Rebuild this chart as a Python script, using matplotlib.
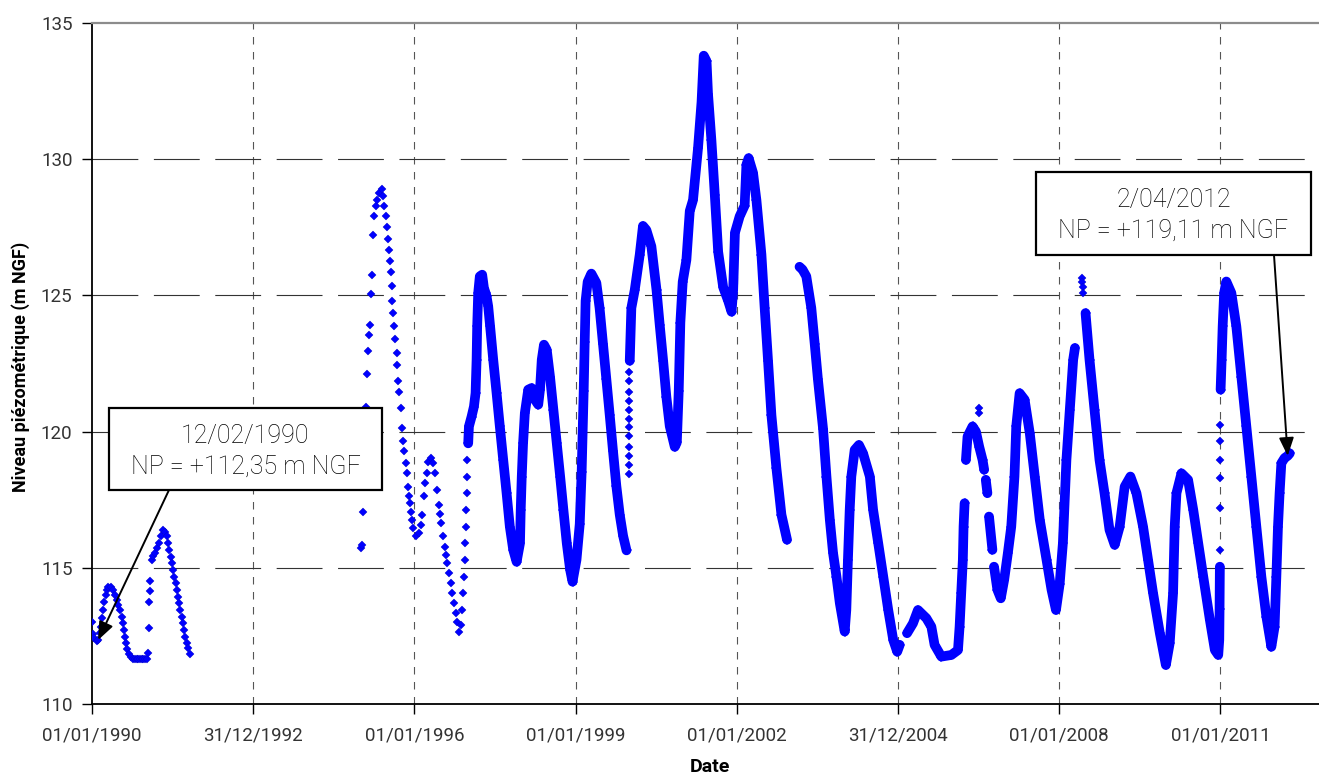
import pandas as pd
import numpy as np
import matplotlib
matplotlib.use('Agg')
import matplotlib.pyplot as plt
from matplotlib.patches import Rectangle

plt.rcParams['font.family'] = ['Roboto', 'DejaVu Sans']
plt.rcParams['lines.scale_dashes'] = False

# --- Piezometric level (m NGF) -------------------------------------------
# Individual readings (drawn as separate diamonds)
spots_1990_1991 = [
    ("1990-01-01", 113.00), ("1990-01-06", 112.57), ("1990-01-17", 112.41),
    ("1990-02-02", 112.33), ("1990-02-12", 112.35), ("1990-02-24", 112.60),
    ("1990-03-03", 112.84), ("1990-03-12", 113.15), ("1990-03-19", 113.45),
    ("1990-03-26", 113.76), ("1990-04-04", 114.00), ("1990-04-11", 114.19),
    ("1990-04-22", 114.29), ("1990-05-08", 114.29), ("1990-05-26", 114.19),
    ("1990-06-06", 114.00), ("1990-06-18", 113.82), ("1990-06-29", 113.64),
    ("1990-07-10", 113.45), ("1990-07-22", 113.21), ("1990-07-29", 112.96),
    ("1990-08-06", 112.72), ("1990-08-13", 112.47), ("1990-08-20", 112.23),
    ("1990-08-29", 112.01), ("1990-09-09", 111.84), ("1990-09-23", 111.72),
    ("1990-10-09", 111.64), ("1990-10-20", 111.64), ("1990-11-01", 111.64),
    ("1990-11-12", 111.64), ("1990-11-23", 111.64), ("1990-12-05", 111.64),
    ("1990-12-16", 111.64), ("1990-12-27", 111.64), ("1991-01-08", 111.64),
    ("1991-01-19", 111.86), ("1991-01-22", 112.80), ("1991-01-26", 113.75),
    ("1991-01-29", 114.15), ("1991-02-02", 114.50), ("1991-02-11", 115.30),
    ("1991-02-22", 115.42), ("1991-03-05", 115.54), ("1991-03-21", 115.72),
    ("1991-04-03", 115.90), ("1991-04-15", 116.15), ("1991-04-30", 116.37),
    ("1991-05-12", 116.33), ("1991-05-24", 116.15), ("1991-06-03", 115.90),
    ("1991-06-10", 115.66), ("1991-06-20", 115.41), ("1991-07-01", 115.17),
    ("1991-07-07", 114.92), ("1991-07-14", 114.68), ("1991-07-24", 114.43),
    ("1991-07-31", 114.19), ("1991-08-10", 113.94), ("1991-08-17", 113.70),
    ("1991-08-24", 113.45), ("1991-09-03", 113.21), ("1991-09-09", 112.96),
    ("1991-09-18", 112.72), ("1991-09-25", 112.47), ("1991-10-07", 112.23),
    ("1991-10-17", 112.05), ("1991-10-29", 111.84),
]

spots_1995_1996 = [
    ("1995-01-01", 115.72), ("1995-01-07", 115.84), ("1995-01-14", 117.06),
    ("1995-02-05", 120.92), ("1995-02-10", 122.11), ("1995-02-21", 122.97),
    ("1995-02-28", 123.56), ("1995-03-05", 123.92), ("1995-03-11", 125.05),
    ("1995-03-20", 125.76), ("1995-03-27", 127.20), ("1995-04-03", 127.90),
    ("1995-04-14", 128.27), ("1995-04-23", 128.52), ("1995-05-07", 128.76),
    ("1995-05-23", 128.92), ("1995-05-30", 128.64), ("1995-06-10", 128.27),
    ("1995-06-19", 127.90), ("1995-06-30", 127.50), ("1995-07-07", 127.07),
    ("1995-07-12", 126.68), ("1995-07-18", 126.27), ("1995-07-23", 125.86),
    ("1995-07-30", 125.36), ("1995-08-03", 124.80), ("1995-08-10", 124.35),
    ("1995-08-15", 123.86), ("1995-08-22", 123.41), ("1995-09-02", 122.88),
    ("1995-09-06", 122.45), ("1995-09-13", 121.87), ("1995-09-20", 121.45),
    ("1995-09-30", 120.86), ("1995-10-06", 120.13), ("1995-10-17", 119.66),
    ("1995-10-24", 119.27), ("1995-11-03", 118.86), ("1995-11-09", 118.47),
    ("1995-11-20", 117.98), ("1995-11-25", 117.62), ("1995-12-02", 117.37),
    ("1995-12-09", 117.06), ("1995-12-18", 116.76), ("1995-12-25", 116.45),
    ("1996-01-11", 116.15), ("1996-02-01", 116.27), ("1996-02-14", 116.58),
    ("1996-02-23", 116.94), ("1996-03-06", 117.64), ("1996-03-12", 118.11),
    ("1996-03-24", 118.47), ("1996-04-04", 118.90), ("1996-04-20", 119.03),
    ("1996-05-08", 118.84), ("1996-05-19", 118.47), ("1996-05-31", 117.86),
    ("1996-06-15", 117.31), ("1996-06-22", 116.98), ("1996-06-29", 116.64),
    ("1996-07-15", 116.15), ("1996-07-26", 115.78), ("1996-08-02", 115.47),
    ("1996-08-11", 115.17), ("1996-08-22", 114.80), ("1996-09-03", 114.43),
    ("1996-09-14", 114.07), ("1996-09-25", 113.70), ("1996-10-07", 113.33),
    ("1996-10-18", 113.02), ("1996-10-29", 112.66), ("1996-11-10", 112.90),
    ("1996-11-21", 113.45), ("1996-11-28", 114.07), ("1996-12-02", 114.68),
    ("1996-12-09", 115.29), ("1996-12-11", 115.90), ("1996-12-14", 116.51),
    ("1996-12-16", 117.13), ("1996-12-21", 117.74), ("1996-12-23", 118.35),
    ("1996-12-25", 118.96),
]

spots_2000 = [
    ("2000-01-01", 118.46), ("2000-01-01", 118.78), ("2000-01-01", 119.11),
    ("2000-01-01", 119.44), ("2000-01-01", 119.83), ("2000-01-01", 120.16),
    ("2000-01-01", 120.48), ("2000-01-01", 120.81), ("2000-01-01", 121.14),
    ("2000-01-01", 121.47), ("2000-01-01", 121.86), ("2000-01-01", 122.19),
]

spots_2006 = [("2006-07-06", 120.87), ("2006-07-08", 120.68)]

spots_2008 = [("2008-06-04", 125.65), ("2008-06-06", 125.50),
              ("2008-06-08", 125.30), ("2008-06-10", 125.10)]

spots_2011 = [("2010-12-29", 115.66), ("2010-12-29", 117.19),
              ("2010-12-30", 118.29), ("2010-12-30", 118.96),
              ("2010-12-31", 119.64), ("2010-12-31", 120.23)]

# Continuous logger stretches (dense daily series)
logger_1997_1999 = [
    ("1997-01-01", 119.57), ("1997-01-06", 120.19), ("1997-01-24", 120.55),
    ("1997-02-09", 120.92), ("1997-02-20", 121.41), ("1997-02-27", 122.64),
    ("1997-03-03", 123.86), ("1997-03-10", 125.09), ("1997-03-21", 125.70),
    ("1997-04-06", 125.76), ("1997-04-18", 125.27), ("1997-04-29", 125.09),
    ("1997-05-06", 124.96), ("1997-05-17", 124.60), ("1997-05-30", 123.86),
    ("1997-06-20", 122.64), ("1997-07-13", 121.41), ("1997-08-04", 120.19),
    ("1997-08-27", 118.96), ("1997-09-19", 117.74), ("1997-10-11", 116.51),
    ("1997-11-03", 115.66), ("1997-11-26", 115.22), ("1997-12-19", 115.90),
    ("1997-12-24", 117.13), ("1997-12-31", 118.35), ("1998-01-09", 119.57),
    ("1998-01-21", 120.68), ("1998-02-13", 121.54), ("1998-03-08", 121.60),
    ("1998-03-31", 121.17), ("1998-04-22", 120.99), ("1998-05-04", 121.54),
    ("1998-05-16", 122.64), ("1998-05-31", 123.19), ("1998-06-19", 123.00),
    ("1998-07-11", 122.02), ("1998-08-03", 120.80), ("1998-08-26", 119.57),
    ("1998-09-18", 118.35), ("1998-10-10", 117.13), ("1998-11-02", 115.90),
    ("1998-11-25", 114.92), ("1998-12-11", 114.49), ("1999-01-07", 115.29),
    ("1999-01-29", 116.60), ("1999-02-11", 118.50), ("1999-02-25", 121.50),
    ("1999-03-04", 123.30), ("1999-03-10", 124.80), ("1999-03-24", 125.50),
    ("1999-04-18", 125.80), ("1999-05-22", 125.46), ("1999-06-13", 124.54),
    ("1999-07-06", 123.23), ("1999-07-29", 121.92), ("1999-08-21", 120.60),
    ("1999-09-12", 119.30), ("1999-10-05", 118.00), ("1999-10-28", 116.95),
    ("1999-11-20", 116.17), ("1999-12-13", 115.64),
]

logger_2000_2002 = [
    ("2000-01-04", 122.60), ("2000-01-15", 124.54), ("2000-02-07", 125.20),
    ("2000-03-12", 126.50), ("2000-04-03", 127.55), ("2000-04-26", 127.40),
    ("2000-05-30", 126.80), ("2000-07-04", 125.20), ("2000-07-26", 123.90),
    ("2000-08-18", 122.60), ("2000-09-09", 121.27), ("2000-10-02", 120.20),
    ("2000-11-05", 119.44), ("2000-11-19", 119.60), ("2000-12-02", 121.50),
    ("2000-12-13", 124.00), ("2000-12-29", 125.50), ("2001-01-23", 126.30),
    ("2001-02-15", 128.10), ("2001-03-09", 128.50), ("2001-04-12", 130.40),
    ("2001-05-06", 132.10), ("2001-05-21", 133.80), ("2001-06-09", 133.60),
    ("2001-06-19", 132.40), ("2001-07-12", 130.70), ("2001-08-04", 128.70),
    ("2001-08-27", 126.60), ("2001-09-30", 125.30), ("2001-11-03", 124.80),
    ("2001-11-26", 124.40), ("2001-12-07", 125.20), ("2001-12-19", 127.30),
    ("2002-01-20", 127.90), ("2002-02-23", 128.30), ("2002-03-07", 129.80),
    ("2002-03-22", 130.04), ("2002-04-21", 129.50), ("2002-05-14", 128.50),
    ("2002-06-17", 126.50), ("2002-07-09", 124.54), ("2002-08-01", 122.60),
    ("2002-08-24", 120.60), ("2002-09-27", 118.65), ("2002-10-31", 116.95),
    ("2002-12-08", 116.03),
]

logger_2003_2005 = [
    ("2003-03-03", 126.05), ("2003-03-23", 125.95), ("2003-04-18", 125.70),
    ("2003-05-22", 124.54), ("2003-06-14", 123.23), ("2003-07-06", 121.92),
    ("2003-08-10", 120.10), ("2003-09-02", 118.35), ("2003-09-25", 116.76),
    ("2003-10-17", 115.54), ("2003-11-09", 114.68), ("2003-12-02", 113.70),
    ("2004-01-04", 112.66), ("2004-01-15", 113.45), ("2004-01-26", 115.29),
    ("2004-02-07", 117.13), ("2004-02-18", 118.35), ("2004-03-12", 119.33),
    ("2004-04-10", 119.51), ("2004-05-08", 119.20), ("2004-06-23", 118.35),
    ("2004-07-15", 117.13), ("2004-08-19", 115.90), ("2004-09-22", 114.68),
    ("2004-10-26", 113.45), ("2004-11-29", 112.35), ("2004-12-26", 111.92),
    ("2005-01-12", 112.17),
]

logger_2005_2006 = [
    ("2005-03-03", 112.60), ("2005-04-12", 112.96), ("2005-05-16", 113.45),
    ("2005-07-12", 113.15), ("2005-08-15", 112.84), ("2005-09-06", 112.17),
    ("2005-10-22", 111.74), ("2005-12-29", 111.80), ("2006-02-12", 111.98),
    ("2006-02-23", 112.84), ("2006-03-06", 114.07), ("2006-03-17", 115.29),
    ("2006-03-22", 116.51), ("2006-03-29", 117.37),
]

logger_2006a = [
    ("2006-04-07", 118.96), ("2006-04-18", 119.82), ("2006-05-22", 120.19),
    ("2006-06-14", 120.00), ("2006-07-06", 119.45), ("2006-07-29", 118.96),
    ("2006-08-09", 118.60),
]
logger_2006b = [("2006-08-20", 118.23), ("2006-08-31", 117.74)]
logger_2006c = [("2006-09-11", 116.88), ("2006-10-04", 115.66)]

logger_2006_2008 = [
    ("2006-10-15", 115.04), ("2006-11-07", 114.19), ("2006-11-30", 113.88),
    ("2006-12-23", 114.56), ("2007-01-17", 115.54), ("2007-02-09", 116.51),
    ("2007-03-03", 118.35), ("2007-03-15", 120.19), ("2007-04-07", 121.41),
    ("2007-05-11", 121.17), ("2007-06-15", 119.94), ("2007-07-19", 118.35),
    ("2007-08-22", 116.76), ("2007-10-07", 115.29), ("2007-11-10", 114.19),
    ("2007-12-10", 113.45), ("2008-01-04", 114.40), ("2008-01-26", 115.90),
    ("2008-02-19", 118.96), ("2008-03-13", 120.80), ("2008-04-05", 122.64),
    ("2008-04-17", 123.07),
]

logger_2008_2010 = [
    ("2008-06-28", 124.35), ("2008-07-25", 122.64), ("2008-08-28", 120.80),
    ("2008-10-01", 118.96), ("2008-11-04", 117.74), ("2008-12-08", 116.39),
    ("2009-01-12", 115.84), ("2009-02-15", 116.51), ("2009-03-21", 117.98),
    ("2009-04-29", 118.35), ("2009-06-09", 117.74), ("2009-07-24", 116.51),
    ("2009-08-27", 115.29), ("2009-09-30", 114.07), ("2009-11-15", 112.60),
    ("2009-12-26", 111.43), ("2010-01-21", 112.23), ("2010-02-13", 114.07),
    ("2010-02-24", 116.51), ("2010-03-08", 117.74), ("2010-04-11", 118.47),
    ("2010-05-26", 118.23), ("2010-06-30", 117.13), ("2010-08-03", 115.90),
    ("2010-09-06", 114.68), ("2010-10-21", 113.09), ("2010-11-24", 111.98),
    ("2010-12-17", 111.80), ("2010-12-24", 112.35), ("2010-12-26", 113.50),
    ("2010-12-28", 115.04),
]

logger_2011_2012 = [
    ("2011-01-02", 121.54), ("2011-01-09", 122.64), ("2011-01-16", 123.86),
    ("2011-01-26", 125.09), ("2011-02-10", 125.51), ("2011-03-16", 125.09),
    ("2011-04-19", 123.86), ("2011-05-23", 122.02), ("2011-06-26", 120.19),
    ("2011-07-30", 118.35), ("2011-09-02", 116.51), ("2011-10-06", 114.68),
    ("2011-11-09", 113.21), ("2011-12-13", 112.10), ("2012-01-04", 112.84),
    ("2012-01-16", 114.68), ("2012-01-27", 116.51), ("2012-02-07", 117.74),
    ("2012-02-19", 118.84), ("2012-03-12", 119.03), ("2012-04-02", 119.11),
    ("2012-04-16", 119.20),
]

# Axis ticks
tick_dates = ["1990-01-01", "1992-12-31", "1996-01-01", "1999-01-01",
              "2002-01-01", "2004-12-31", "2008-01-01", "2011-01-01"]
y_ticks = [110, 115, 120, 125, 130, 135]

# Callouts: (date, level, line 1, line 2)
first_reading = ("1990-02-12", 112.35, "12/02/1990", "NP = +112,35 m NGF")
last_reading = ("2012-04-02", 119.11, "2/04/2012", "NP = +119,11 m NGF")

BLUE = '#0000FF'
W, H = 1319, 776

fig = plt.figure(figsize=(W / 100, H / 100), dpi=100)
ax = fig.add_axes([92 / W, 72 / H, 1236 / W, 681 / H])

# dense stretches: thick band of diamonds
for stretch in [logger_1997_1999, logger_2000_2002, logger_2003_2005,
                logger_2005_2006, logger_2006a, logger_2006b, logger_2006c,
                logger_2006_2008, logger_2008_2010, logger_2011_2012]:
    d, v = zip(*stretch)
    ax.plot(pd.to_datetime(list(d)), v, color=BLUE, lw=7.0,
            solid_capstyle='round', solid_joinstyle='round',
            marker='D', ms=5.0, mew=0, zorder=3)

# single readings
for spots in [spots_1990_1991, spots_1995_1996, spots_2000, spots_2006,
              spots_2008, spots_2011]:
    d, v = zip(*spots)
    ax.plot(pd.to_datetime(list(d)), v, ls='none', marker='D', ms=4.3,
            color=BLUE, mec='#0000C8', mew=0.3, zorder=3)

# grid
for d in tick_dates[1:]:
    ax.axvline(pd.Timestamp(d), color='#555555', lw=0.8, dashes=(5.4, 5.4), zorder=1)
for y in y_ticks[1:-1]:
    ax.axhline(y, color='#333333', lw=0.8, dashes=(33, 11.2), zorder=1)

ax.set_xlim(pd.Timestamp("1990-01-01"), pd.Timestamp("2013-01-01"))
ax.set_ylim(110, 135)
ax.set_xticks(pd.to_datetime(tick_dates))
ax.set_xticklabels([pd.Timestamp(d).strftime('%d/%m/%Y') for d in tick_dates])
ax.set_yticks(y_ticks)
ax.tick_params(axis='both', direction='out', length=7, width=1, color='black',
               labelsize=13.5, labelcolor='#333333')
ax.tick_params(axis='x', pad=9)
ax.tick_params(axis='y', pad=7)

ax.spines['right'].set_visible(False)
ax.spines['top'].set_color('#8c8c8c')
ax.spines['top'].set_linewidth(1.6)
for s in ['left', 'bottom']:
    ax.spines[s].set_color('black')
    ax.spines[s].set_linewidth(1.3)

ax.set_ylabel('Niveau piézométrique (m NGF)', fontsize=13, fontweight='bold')
ax.yaxis.set_label_coords(-0.050, 0.495)
ax.set_xlabel('Date', fontsize=14, fontweight='bold')
ax.xaxis.set_label_coords(0.5, -0.079)


def callout(reading, box, start):
    date, level, line1, line2 = reading
    x0, y0, x1, y1 = box  # pixel box, top-left origin
    rect = Rectangle((x0 / W, 1 - y1 / H), (x1 - x0) / W, (y1 - y0) / H,
                     transform=fig.transFigure, facecolor='white',
                     edgecolor='black', lw=1.6, zorder=5)
    fig.add_artist(rect)
    cx = (x0 + x1) / 2 / W
    fig.text(cx, 1 - (y0 + 28) / H, line1, ha='center', va='center',
             fontsize=18, fontweight='light', color='black', zorder=6)
    fig.text(cx, 1 - (y0 + 59) / H, line2, ha='center', va='center',
             fontsize=18, fontweight='light', color='black', zorder=6)
    ax.annotate('', xy=(pd.Timestamp(date), level), xycoords='data',
                xytext=(start[0], H - start[1]), textcoords='figure pixels',
                arrowprops=dict(arrowstyle='-|>,head_length=1.1,head_width=0.45',
                                color='black', lw=1.4, shrinkA=0, shrinkB=0,
                                mutation_scale=10),
                zorder=6, annotation_clip=False)


callout(first_reading, (109, 408, 382, 490), (169, 490))
callout(last_reading, (1036, 172, 1311, 255), (1274, 255))

fig.savefig('out.png', dpi=100)
